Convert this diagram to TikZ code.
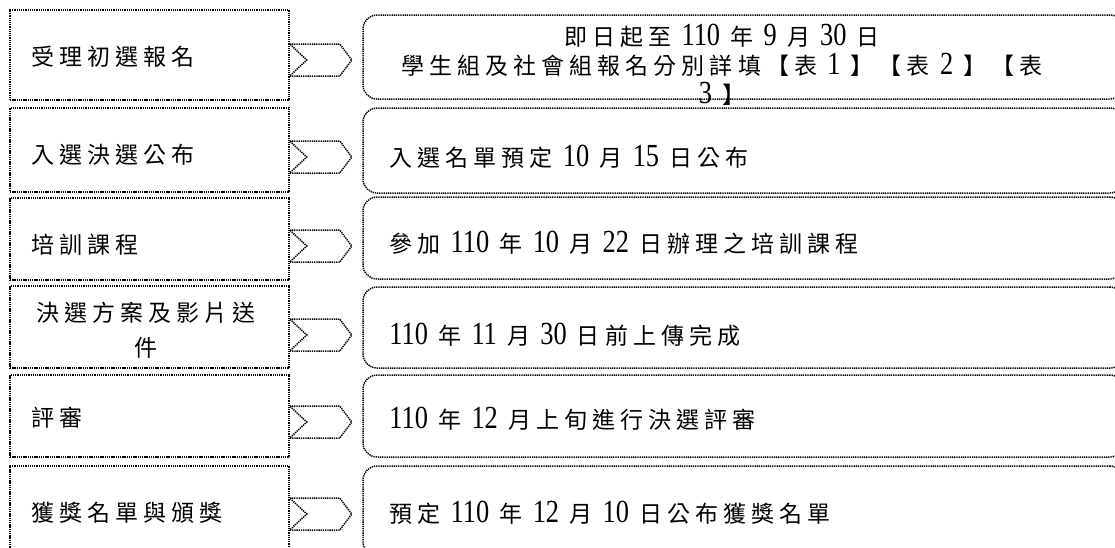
\documentclass[tikz,border=0pt]{standalone}
\usepackage{fontspec}
\newfontfamily\cjk{Noto Sans CJK TC}[LetterSpace=22]
\newfontfamily\numfont{Liberation Serif}[Scale=1.4,FakeStretch=0.82]
\newcommand\nb[1]{{\numfont #1}}
\begin{document}
\begin{tikzpicture}[x=1pt,y=-1pt,
		line/.style={dash pattern=on 1.3pt off 0.9pt, line width=1.5pt, black},
		lbox/.style={line, draw, minimum width=279pt, inner sep=0pt},
		rbox/.style={line, draw, rounded corners=14pt, minimum width=761pt, inner sep=0pt},
		ltext/.style={anchor=west, inner sep=0pt, font=\cjk\fontsize{23}{35}\selectfont},
		chev/.style={line}]
				\useasboundingbox (0,0) rectangle (1115,547);
				% left column
				\node [lbox, minimum height=90pt] (l1) at (149.5,55) {};
				\node [lbox, minimum height=84pt] (l2) at (149.5,150) {};
				\node [lbox, minimum height=82pt] (l3) at (149.5,239) {};
				\node [lbox, minimum height=82pt] (l4) at (149.5,327) {};
				\node [lbox, minimum height=82pt] (l5) at (149.5,416) {};
				\node [lbox, minimum height=90pt] (l6) at (149.5,511) {};
				\node [ltext] (lt1) at ([xshift=22pt]l1.west |- 0,57) {受理初選報名};
				\node [ltext] (lt2) at ([xshift=22pt]l2.west |- 0,155) {入選決選公布};
				\node [ltext] (lt3) at ([xshift=22pt]l3.west |- 0,245) {培訓課程};
				\node [ltext, anchor=center, align=center] (lt4) at (146,330) {決選方案及影片送\\件};
				\node [ltext] (lt5) at ([xshift=22pt]l5.west |- 0,418) {評審};
				\node [ltext] (lt6) at ([xshift=22pt]l6.west |- 0,513) {獲獎名單與頒獎};
				% right column
				\node [rbox, minimum height=84pt] (r1) at (743.5,57) {};
				\node [rbox, minimum height=85pt] (r2) at (743.5,150.5) {};
				\node [rbox, minimum height=82pt] (r3) at (743.5,238) {};
				\node [rbox, minimum height=81pt] (r4) at (743.5,327.5) {};
				\node [rbox, minimum height=82pt] (r5) at (743.5,416) {};
				\node [rbox, minimum height=90pt] (r6) at (743.5,511) {};
				\node [ltext, anchor=center, align=center, font=\cjk\fontsize{23}{29}\selectfont] (rt1) at (722,65)
					{即日起至 \nb{110} 年 \nb{9} 月 \nb{30} 日\\學生組及社會組報名分別詳填【表 \nb{1} 】【表 \nb{2} 】【表\\\nb{3} 】};
				\node [ltext] (rt2) at ([xshift=27pt]r2.west |- 0,157) {入選名單預定 \nb{10} 月 \nb{15} 日公布};
				\node [ltext] (rt3) at ([xshift=27pt]r3.west |- 0,243) {參加 \nb{110} 年 \nb{10} 月 \nb{22} 日辦理之培訓課程};
				\node [ltext] (rt4) at ([xshift=27pt]r4.west |- 0,335) {\nb{110} 年 \nb{11} 月 \nb{30} 日前上傳完成};
				\node [ltext] (rt5) at ([xshift=27pt]r5.west |- 0,419) {\nb{110} 年 \nb{12} 月上旬進行決選評審};
				\node [ltext] (rt6) at ([xshift=27pt]r6.west |- 0,513) {預定 \nb{110} 年 \nb{12} 月 \nb{10} 日公布獲獎名單};
				% chevrons
				\draw [chev] (l1.east |- 0,60) ++(0,-16) -- ++(50,0) -- ++(12,16) -- ++(-12,16) -- ++(-50,0) -- ++(17,-16) -- cycle;
				\draw [chev] (l2.east |- 0,157) ++(0,-16) -- ++(50,0) -- ++(12,16) -- ++(-12,16) -- ++(-50,0) -- ++(17,-16) -- cycle;
				\draw [chev] (l3.east |- 0,246) ++(0,-16) -- ++(50,0) -- ++(12,16) -- ++(-12,16) -- ++(-50,0) -- ++(17,-16) -- cycle;
				\draw [chev] (l4.east |- 0,335) ++(0,-16) -- ++(50,0) -- ++(12,16) -- ++(-12,16) -- ++(-50,0) -- ++(17,-16) -- cycle;
				\draw [chev] (l5.east |- 0,422) ++(0,-16) -- ++(50,0) -- ++(12,16) -- ++(-12,16) -- ++(-50,0) -- ++(17,-16) -- cycle;
				\draw [chev] (l6.east |- 0,514) ++(0,-16) -- ++(50,0) -- ++(12,16) -- ++(-12,16) -- ++(-50,0) -- ++(17,-16) -- cycle;
			\end{tikzpicture}
\end{document}
